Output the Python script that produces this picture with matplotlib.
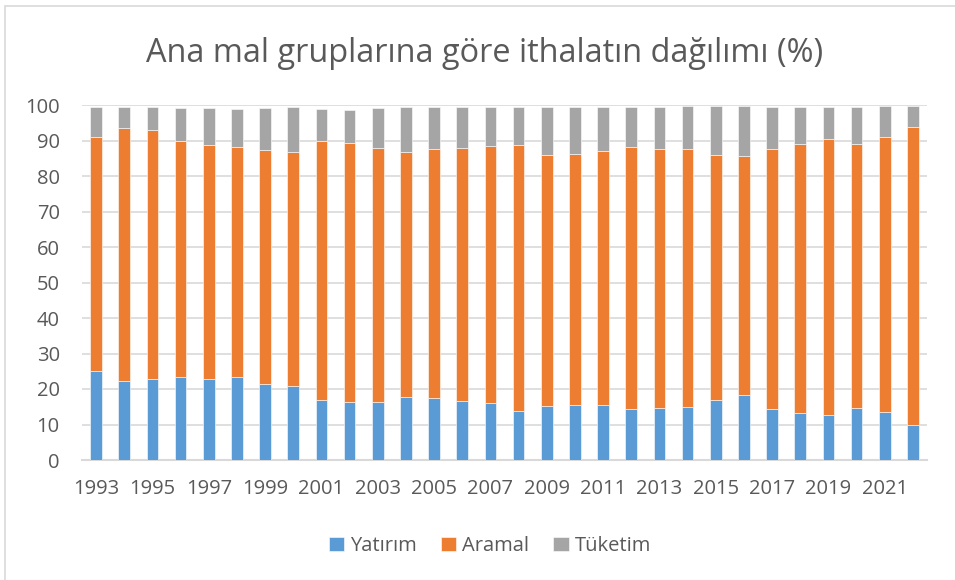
import matplotlib
matplotlib.use("Agg")
import matplotlib.pyplot as plt
from matplotlib.patches import Rectangle
import numpy as np

# Ana mal gruplarına göre ithalat payları (%)
years = list(range(1993, 2023))
yatirim = [25.0, 22.3, 22.7, 23.5, 22.8, 23.3, 21.4, 20.9, 16.8, 16.2,
           16.4, 17.7, 17.4, 16.7, 16.0, 13.8, 15.1, 15.5, 15.4, 14.3,
           14.6, 14.8, 16.8, 18.2, 14.3, 13.1, 12.8, 14.7, 13.4, 9.9]
aramal = [65.9, 71.3, 70.3, 66.5, 66.0, 65.0, 65.8, 65.9, 73.1, 73.0,
          71.6, 69.2, 70.1, 71.3, 72.5, 75.0, 70.8, 70.7, 71.7, 73.8,
          72.9, 72.9, 69.2, 67.5, 73.2, 76.0, 77.7, 74.4, 77.7, 83.8]
tuketim = [8.4, 5.7, 6.5, 9.2, 10.4, 10.7, 12.0, 12.6, 9.1, 9.4,
           11.2, 12.4, 11.8, 11.4, 10.8, 10.6, 13.4, 13.3, 12.3, 11.2,
           12.0, 11.9, 13.6, 13.9, 11.9, 10.4, 9.0, 10.4, 8.5, 6.0]
series_names = ["Yatırım", "Aramal", "Tüketim"]
colors = ["#5B9BD5", "#ED7D31", "#A5A5A5"]
title = "Ana mal gruplarına göre ithalatın dağılımı (%)"

plt.rcParams['font.family'] = ['Open Sans', 'DejaVu Sans']
txt = "#595959"

fig = plt.figure(figsize=(9.55, 5.8), dpi=100)
ax = fig.add_axes([82 / 955, 1 - 460 / 580, 845 / 955, 355 / 580])

x = np.arange(len(years))
bottom = np.zeros(len(years))
for vals, name, c in zip([yatirim, aramal, tuketim], series_names, colors):
    ax.bar(x, vals, width=0.42, bottom=bottom, color=c, label=name,
           edgecolor="white", linewidth=0.4, zorder=3)
    bottom = bottom + np.array(vals)

ax.set_xlim(-0.5, len(years) - 0.5)
ax.set_ylim(0, 100)
ax.set_yticks(range(0, 101, 10))
ax.set_xticks(x[::2])
ax.set_xticklabels([str(y) for y in years[::2]])
ax.grid(axis="y", color="#D9D9D9", linewidth=1.2, zorder=0)
for s in ["top", "right", "left"]:
    ax.spines[s].set_visible(False)
ax.spines["bottom"].set_color("#D9D9D9")
ax.spines["bottom"].set_linewidth(1.5)
ax.tick_params(axis="both", length=0, labelsize=14.5, labelcolor=txt)
ax.tick_params(axis="y", pad=16)
ax.tick_params(axis="x", pad=14)

fig.text(485 / 955, 1 - 53 / 580, title, ha="center", va="center",
         fontsize=23.4, color=txt)

leg = fig.legend(loc="center", bbox_to_anchor=(490 / 955, 1 - 546 / 580),
                 ncol=3, frameon=False, fontsize=14.5, handlelength=0.75,
                 handleheight=0.75, handletextpad=0.3, columnspacing=1.2)
for t in leg.get_texts():
    t.set_color(txt)

# cerceve
fig.patches.append(Rectangle((5 / 955, -0.1), 1.1, 1 - 6 / 580 + 0.1,
                             transform=fig.transFigure, fill=False,
                             edgecolor="#D9D9D9", linewidth=1.2))

fig.savefig("out.png", dpi=100)
